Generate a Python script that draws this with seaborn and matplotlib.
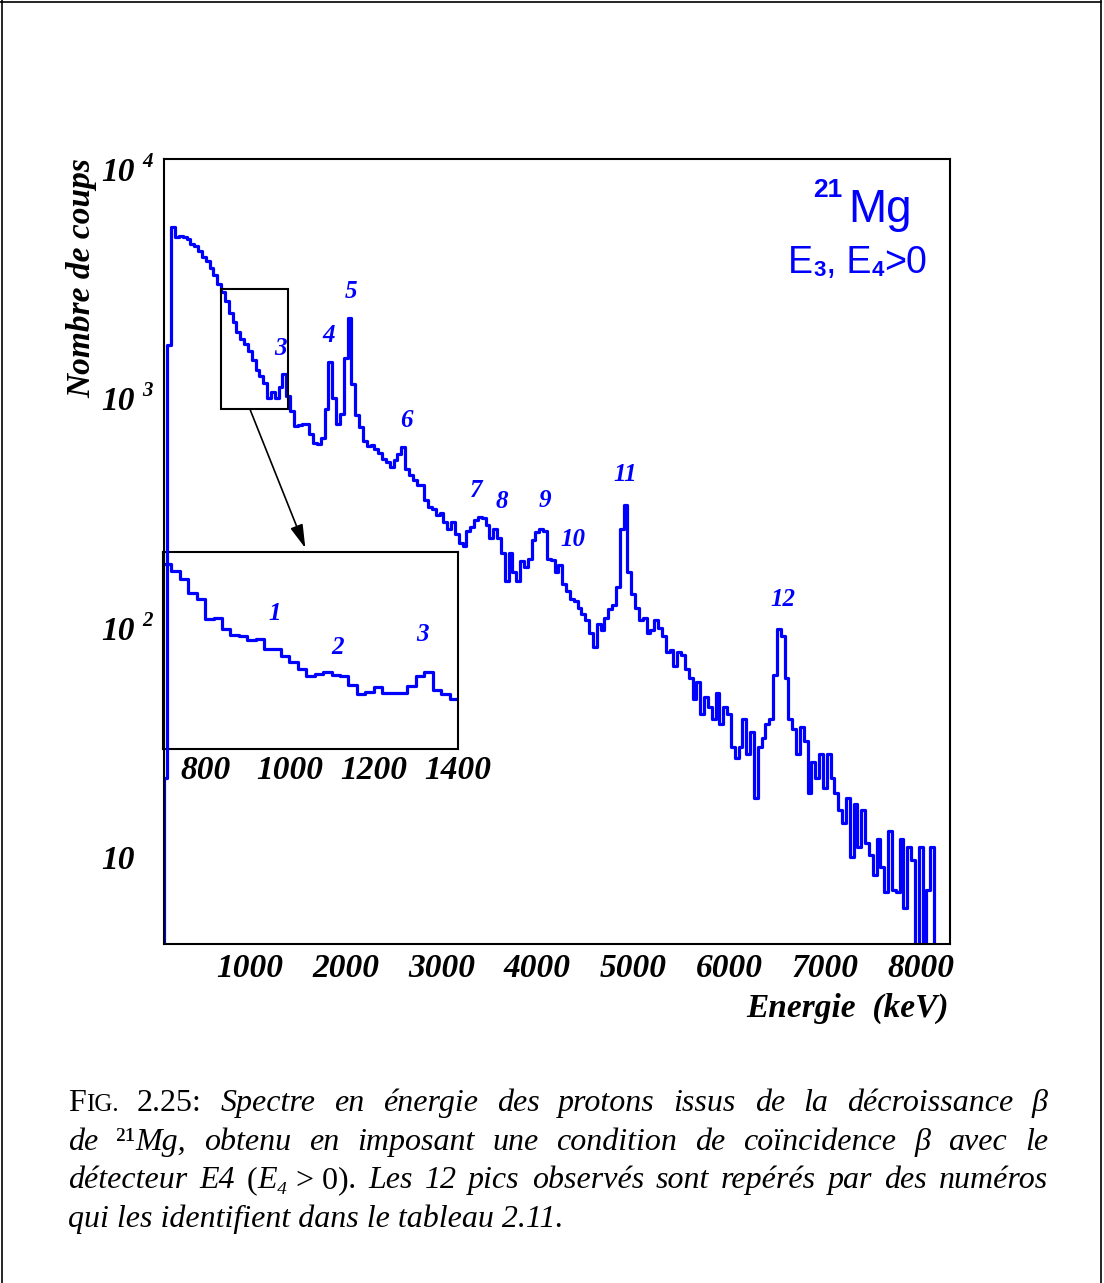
import numpy as np
import pandas as pd
import matplotlib
matplotlib.use("Agg")
import matplotlib.pyplot as plt
import seaborn as sns
from matplotlib.ticker import LogLocator, NullFormatter, NullLocator, MultipleLocator
from matplotlib.patches import Rectangle
from matplotlib.lines import Line2D

# ---------------- data ----------------
main_bin_start_keV = 60
main_bin_width_keV = 40
main_counts = [
    0,
    22, 1700, 5590, 5070, 5120, 5050, 4950, 4730, 4600, 4400,      # 100-460
    4150, 3950, 3700, 3450, 3150, 2900, 2650, 2350, 2150, 1950,    # 500-860
    1820, 1720, 1600, 1470, 1330, 1250, 1170, 1000, 1070, 1000,    # 900-1260
    1120, 1280, 1020, 880, 760, 765, 775, 770, 700, 640,           # 1300-1660
    635, 670, 900, 1440, 1000, 770, 850, 1500, 2230, 1150,         # 1700-2060
    846, 750, 650, 620, 625, 600, 575, 545, 530, 500,              # 2100-2460
    540, 570, 615, 490, 465, 440, 420, 420, 360, 335,              # 2500-2860
    330, 310, 315, 290, 270, 290, 255, 235, 228, 265,              # 2900-3260
    275, 295, 305, 300, 280, 245, 268, 245, 212, 160,              # 3300-3660
    212, 175, 160, 195, 184, 200, 240, 262, 270, 265,              # 3700-4060
    200, 197, 175, 187, 155, 145, 133, 130, 122, 115,              # 4100-4460
    108, 95, 82, 104, 98, 110, 120, 125, 150, 270,                 # 4500-4860
    342, 175, 140, 122, 108, 110, 95, 98, 108, 100,                # 4900-5260
    92, 78, 80, 68, 78, 76, 66, 60, 49, 58,                        # 5300-5660
    42, 50, 45, 40, 52, 38, 45, 42, 30, 27,                        # 5700-6060
    30, 40, 28, 35, 18, 30, 33, 38, 40, 62,                        # 6100-6460
    99, 92, 60, 40, 36, 28, 37, 32, 19, 26,                        # 6500-6860
    22, 28, 20, 28, 22, 19, 16, 14, 18, 10,                        # 6900-7260
    17, 11, 16, 11.5, 10.2, 8.3, 12, 9, 7, 13,                     # 7300-7660
    7.2, 7, 12, 6, 11, 9.7, 0, 11, 0, 7.2,                         # 7700-8060
    11, 0, 0, 0, 0,                                                # 8100-8260
]

inset_bin_start_keV = 700
inset_bin_width_keV = 20
inset_counts = [1857, 1735, 1606, 1393, 1302, 1063, 1073, 960, 904, 897,
                862, 876, 789, 792, 738, 689, 646, 598, 613, 623,
                608, 602, 550, 502, 510, 535, 505, 505, 505, 544,
                602, 623, 523, 502, 475]

x_tick_values = [1000, 2000, 3000, 4000, 5000, 6000, 7000, 8000]
inset_tick_values = [800, 1000, 1200, 1400]
y_decades = [1, 2, 3, 4]

peak_names = ["3", "4", "5", "6", "7", "8", "9", "10", "11", "12"]
peak_label_keV = [1318, 1819, 2059, 2632, 3362, 3634, 4082, 4374, 4916, 6564]
peak_label_counts = [1641, 1870, 2908, 804, 398, 353, 360, 243, 463, 133]
inset_peak_names = ["1", "2", "3"]
inset_label_keV = [964, 1115, 1315]
inset_label_counts = [1129, 800, 913]

# ---------------- style ----------------
sns.set_style("white")
plt.rcParams["font.family"] = ["Liberation Serif", "DejaVu Serif"]
plt.rcParams["text.color"] = "black"
plt.rcParams["xtick.color"] = "black"
plt.rcParams["ytick.color"] = "black"
plt.rcParams["axes.labelcolor"] = "black"

BLUE = "#0000ff"
W, H = 1104, 1283
fig = plt.figure(figsize=(W / 100, H / 100), dpi=100)
fig.patch.set_facecolor("white")


def fx(px):
    return px / W


def fy(py):
    return 1 - py / H


bi = dict(family=["Liberation Serif", "DejaVu Serif"], fontweight="bold", fontstyle="italic",
          color="black")
bi_blue = dict(bi, color=BLUE)

ax_in = fig.add_axes([fx(163), fy(749), 295 / W, 197 / H], zorder=1)
ax = fig.add_axes([fx(163.5), fy(944), 786 / W, 785.5 / H], zorder=2)
ax.patch.set_alpha(0)

# ---------------- main histogram ----------------
edges = [float(v) for v in main_bin_start_keV + main_bin_width_keV * np.arange(len(main_counts) + 1)]
df_main = pd.DataFrame({"energy": np.array(edges[:-1]) + main_bin_width_keV / 2,
                        "counts": main_counts})
sns.histplot(data=df_main, x="energy", weights="counts", bins=edges, element="step",
             fill=False, color=BLUE, linewidth=2.3, ax=ax)
ax.set_yscale("log")
ax.set_xlim(100, 8300)
ax.set_ylim(4.17, 11110)
ax.set_xlabel("")
ax.set_ylabel("")

ax.set_xticks(x_tick_values, labels=[str(v) for v in x_tick_values], fontsize=24, **bi)
ax.xaxis.set_minor_locator(MultipleLocator(200))
ax.yaxis.set_major_locator(LogLocator(base=10, numticks=10))
ax.yaxis.set_minor_locator(LogLocator(base=10, subs=np.arange(2, 10), numticks=20))
ax.yaxis.set_major_formatter(NullFormatter())
ax.yaxis.set_minor_formatter(NullFormatter())
ax.tick_params(axis="x", which="major", direction="in", length=9.5, width=1.1, pad=6.5,
               top=False, color="black", labelcolor="black")
ax.tick_params(axis="x", which="minor", direction="in", length=4.5, width=1.1, top=False,
               color="black")
ax.tick_params(axis="y", which="major", direction="in", length=11, width=1.1, right=False,
               color="black")
ax.tick_params(axis="y", which="minor", direction="in", length=5.5, width=1.1, right=False,
               color="black")
for sp in ax.spines.values():
    sp.set_color("black")
    sp.set_linewidth(1.5)

for d in y_decades:
    yv = 10.0 ** d
    ax.annotate("10", xy=(0, yv), xycoords=("axes fraction", "data"), xytext=(-29, -12),
                textcoords="offset pixels", ha="right", va="baseline", fontsize=24, **bi)
    if d > 1:
        ax.annotate(str(d), xy=(0, yv), xycoords=("axes fraction", "data"), xytext=(-21.5, 2),
                    textcoords="offset pixels", ha="left", va="baseline", fontsize=15, **bi)

for name, xk, yc in zip(peak_names, peak_label_keV, peak_label_counts):
    ax.text(xk, yc, name, ha="center", va="center", fontsize=18, **bi_blue)

ax.add_patch(Rectangle((700, 900), 700, 2100, fill=False, edgecolor="black", lw=1.5, zorder=3))
ax.annotate("", xy=(1580, 222), xytext=(1000, 900),
            arrowprops=dict(arrowstyle="-|>,head_length=0.8,head_width=0.22", color="black",
                            lw=1.2, shrinkA=0, shrinkB=0, mutation_scale=18))

# ---------------- inset histogram ----------------
ie = [float(v) for v in inset_bin_start_keV + inset_bin_width_keV * np.arange(len(inset_counts) + 1)]
df_in = pd.DataFrame({"energy": np.array(ie[:-1]) + inset_bin_width_keV / 2,
                      "counts": inset_counts})
sns.histplot(data=df_in, x="energy", weights="counts", bins=ie, element="step",
             fill=False, color=BLUE, linewidth=2.3, ax=ax_in)
ax_in.set_yscale("log")
ax_in.set_xlim(700, 1400)
ax_in.set_ylim(287, 2100)
ax_in.set_xlabel("")
ax_in.set_ylabel("")
ax_in.set_facecolor("white")
ax_in.set_xticks(inset_tick_values, labels=[str(v) for v in inset_tick_values], fontsize=24, **bi)
ax_in.xaxis.set_minor_locator(NullLocator())
ax_in.yaxis.set_major_locator(NullLocator())
ax_in.yaxis.set_minor_locator(NullLocator())
ax_in.tick_params(axis="x", which="major", direction="in", length=11, width=1.1, pad=4,
                  top=False, color="black", labelcolor="black")
ax_in.tick_params(axis="y", left=False, right=False, labelleft=False)
for sp in ax_in.spines.values():
    sp.set_color("black")
    sp.set_linewidth(1.5)
for name, xk, yc in zip(inset_peak_names, inset_label_keV, inset_label_counts):
    ax_in.text(xk, yc, name, ha="center", va="center", fontsize=18, **bi_blue)

# ---------------- labels ----------------
fig.text(fx(949), fy(1017), "Energie  (keV)", ha="right", va="baseline", fontsize=24, **bi)
fig.text(fx(82), fy(158), "Nombre de coups", rotation=90, ha="center", va="top", fontsize=24, **bi)

renderer = fig.canvas.get_renderer()


def draw_runs(runs, x, yb):
    """runs: (text, props[, dy_px]) drawn left to right on baseline yb (pixels from top)."""
    for run in runs:
        s, props = run[0], run[1]
        dy = run[2] if len(run) > 2 else 0
        t = fig.text(fx(x), fy(yb + dy), s, ha="left", va="baseline", **props)
        x += t.get_window_extent(renderer=renderer).width
    return x


sans = dict(family="Liberation Sans", color=BLUE, fontsize=27)
sans_sub = dict(family="Liberation Sans", color=BLUE, fontsize=16, fontweight="bold")
fig.text(fx(848), fy(222), "Mg", ha="left", va="baseline", color=BLUE, fontsize=33,
         family="Liberation Sans")
fig.text(fx(813), fy(197), "21", ha="left", va="baseline", color=BLUE, fontsize=19,
         family="Liberation Sans", fontweight="bold")
draw_runs([("E", sans), ("3", sans_sub, 3), (",", sans), (" E", sans), ("4", sans_sub, 3),
           (">0", sans)], 788, 273)

# ---------------- page frame ----------------
for xs, ys in [([2, 2], [0, H]), ([0, 1101], [2, 2]), ([1100.5, 1100.5], [0, H])]:
    fig.add_artist(Line2D([fx(v) for v in xs], [fy(v) for v in ys], color="black", lw=1.2,
                          transform=fig.transFigure))

# ---------------- caption (justified) ----------------
CAP = 23
fam = ["Liberation Serif", "DejaVu Serif"]
it = dict(family=fam, fontstyle="italic", fontsize=CAP, color="black")
rm = dict(family=fam, fontstyle="normal", fontsize=CAP, color="black")
sc = dict(family=fam, fontstyle="normal", fontsize=CAP * 0.78, color="black")


def measure(runs):
    total = 0.0
    for run in runs:
        t = fig.text(0, 0, run[0], **run[1])
        total += t.get_window_extent(renderer=renderer).width
        t.remove()
    return total


def words(s):
    return [[(w, it)] for w in s.split()]


lines = [
    [[("F", rm), ("IG.", sc)], [("2.25:", rm)]] + words("Spectre en énergie des protons issus de la décroissance β"),
    words("de") + [[("²¹", rm), ("Mg,", it)]] + words("obtenu en imposant une condition de coïncidence β avec le"),
    words("détecteur E4") + [[("(", rm), ("E₄", it), (" > 0)", rm), (".", it)]]
    + words("Les 12 pics observés sont repérés par des numéros"),
]
baselines = [1111, 1150, 1188, 1227]
X0, X1 = 68, 1048
for toks, yb in zip(lines, baselines[:3]):
    ws = [measure(tk) for tk in toks]
    gap = (X1 - X0 - sum(ws)) / (len(toks) - 1)
    x = X0
    for tk, w in zip(toks, ws):
        draw_runs(tk, x, yb)
        x += w + gap
fig.text(fx(X0), fy(baselines[3]), "qui les identifient dans le tableau 2.11.", ha="left",
         va="baseline", **it)

fig.savefig("out.png", dpi=100, facecolor="white")
